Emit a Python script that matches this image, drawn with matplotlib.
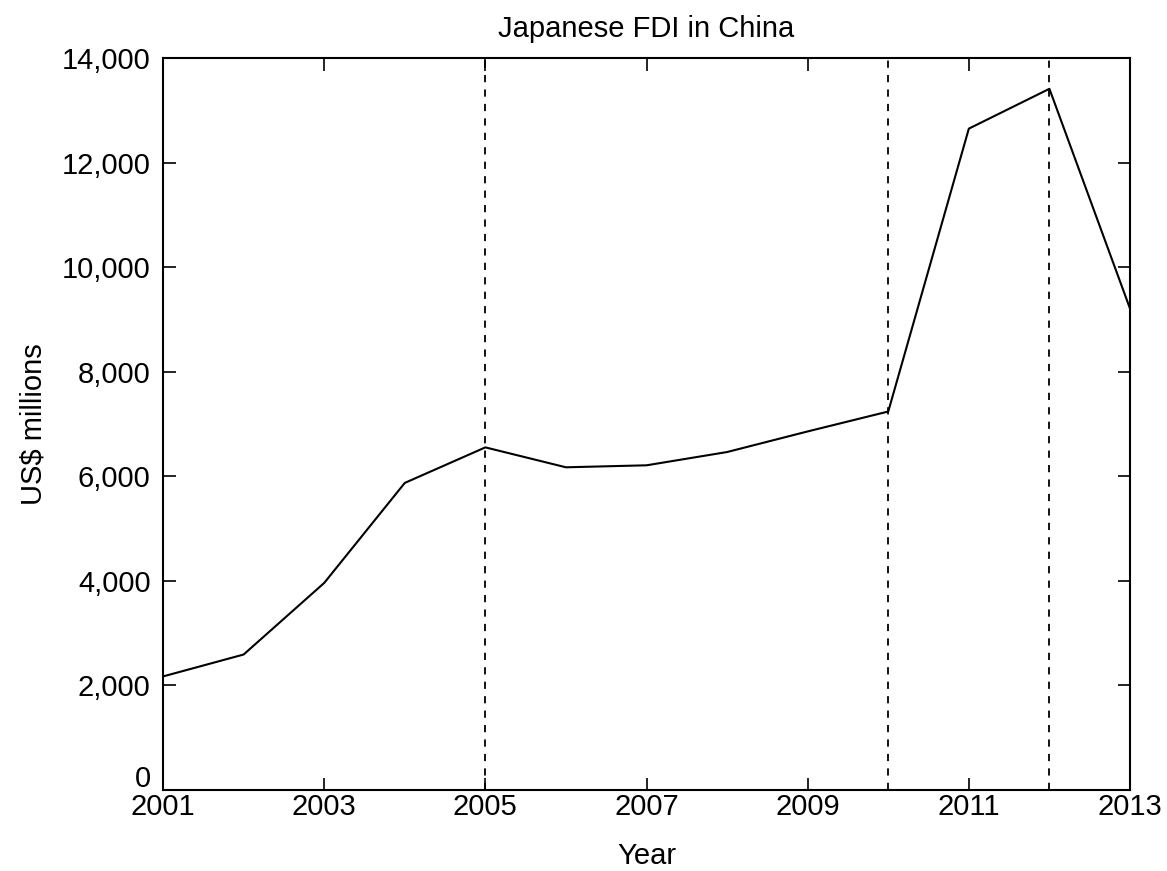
import numpy as np
import matplotlib.pyplot as plt
import matplotlib.transforms as mtransforms
from matplotlib.ticker import FuncFormatter

years = [2001, 2002, 2003, 2004, 2005, 2006, 2007, 2008, 2009, 2010, 2011, 2012, 2013]
fdi = [2172, 2591, 3960, 5873, 6553, 6172, 6210, 6464, 6858, 7239, 12649, 13411, 9207]
event_years = [2005, 2010, 2012]
xticks = [2001, 2003, 2005, 2007, 2009, 2011, 2013]
yticks = [0, 2000, 4000, 6000, 8000, 10000, 12000, 14000]

plt.rcParams['font.family'] = ['Liberation Sans', 'DejaVu Sans']

fig = plt.figure(figsize=(11.67, 8.71), dpi=100)
ax = fig.add_axes([0.1397, 0.0930, 0.8286, 0.8404])

ax.plot(years, fdi, color='black', linewidth=1.5)
for yr in event_years:
    ax.axvline(yr, color='black', linestyle=(0, (4, 4)), linewidth=1.3)

ax.set_xlim(2001, 2013)
ax.set_ylim(0, 14000)
ax.set_xticks(xticks)
ax.set_yticks(yticks)
ax.yaxis.set_major_formatter(FuncFormatter(lambda v, p: '{:,.0f}'.format(v)))
ax.tick_params(direction='in', top=True, right=True, length=9, width=1.2,
               labelsize=21)
ax.tick_params(axis='y', pad=9)
ax.tick_params(axis='x', pad=2)
for s in ax.spines.values():
    s.set_linewidth(1.5)

# lift the "0" so it sits just above "2001" like the original
lbl0 = ax.get_yticklabels()[0]
lbl0.set_transform(lbl0.get_transform() +
                   mtransforms.ScaledTranslation(0, 10 / 72, fig.dpi_scale_trans))

ax.set_title('Japanese FDI in China', fontsize=21, pad=15)
ax.set_xlabel('Year', fontsize=21, labelpad=15)
ax.set_ylabel('US$ millions', fontsize=21, labelpad=10)

fig.savefig('out.png', dpi=100)
